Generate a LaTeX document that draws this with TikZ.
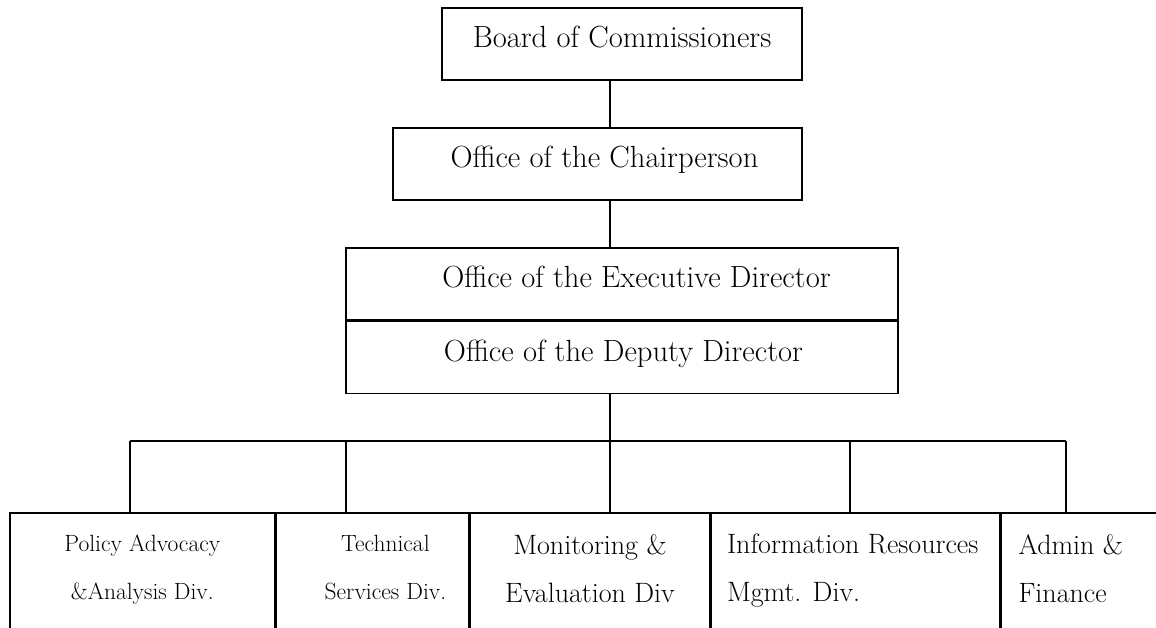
\documentclass[tikz,border=0pt]{standalone}
\usepackage{fontspec}
\usetikzlibrary{positioning}

\tikzset{
  orgbox/.style={draw, line width=1.6pt, rectangle, inner sep=0pt,
    text height=21pt, text depth=14pt,
    font=\fontsize{30.6}{34}\selectfont},
  divbox/.style={draw, line width=1.6pt, rectangle, inner sep=0pt,
    anchor=north west, minimum height=200pt},
  bigtxt/.style={inner sep=0pt, font=\fontsize{28}{48}\selectfont},
  smalltxt/.style={inner sep=0pt, font=\fontsize{23.5}{48}\selectfont},
  link/.style={line width=1.6pt}
}

\begin{document}
\begin{tikzpicture}[x=1pt, y=-1pt]

% page size and cut at the bottom edge
\useasboundingbox (0,0) rectangle (1156,628);
\clip (0,0) rectangle (1156,628);

% Top of the chart
\node[orgbox, minimum width=360, minimum height=72] (board) at (622,44) {Board of Commissioners};
\node[orgbox, minimum width=409, minimum height=72] (chair) at (597.5,164) {\hspace*{14pt}Office of the Chairperson};
\node[orgbox, minimum width=552, minimum height=72] (exec) at (622,284) {\hspace*{29pt}Office of the Executive Director};
\node[orgbox, minimum width=552, minimum height=72, below=0pt of exec] (deputy) {\hspace*{3pt}Office of the Deputy Director};

% spine of the chart
\coordinate (spine) at (610,0);
\draw[link] (spine |- board.south) -- (spine |- chair.north);
\draw[link] (spine |- chair.south) -- (spine |- exec.north);

% Bus line to the divisions
\coordinate (bus) at (610,441);
\coordinate (busL) at (130,441);
\coordinate (busR) at (1066,441);
\draw[link] (bus |- deputy.south) -- (bus);
\draw[link] (busL) -- (busR);

% Divisions (boxes run past the bottom edge)
\node[divbox, minimum width=265] (pol) at (9,512) {};
\node[divbox, minimum width=192] (tech) at (pol.north east) {};
\node[divbox, minimum width=240] (mon) at (tech.north east) {};
\node[divbox, minimum width=288] (info) at (mon.north east) {};
\node[divbox, minimum width=250] (admin) at (info.north east) {};

% Branches from the bus
\coordinate (br1) at (130,441);
\coordinate (br2) at (346,441);
\coordinate (br3) at (610,441);
\coordinate (br4) at (850,441);
\coordinate (br5) at (1066,441);
\foreach \b/\d in {br1/pol, br2/tech, br3/mon, br4/info, br5/admin}
  \draw[link] (\b) -- (\b |- \d.north);

% Division names
\node[smalltxt, align=center, below=23pt of pol.north] (poltxt) {Policy Advocacy\\\&Analysis Div.};
\node[smalltxt, align=center, below=23pt of tech.north, xshift=13pt] (techtxt) {Technical\\Services Div.};
\node[bigtxt, align=center, below=22pt of mon.north] (montxt) {Monitoring \&\\Evaluation Div};
\node[bigtxt, align=left, below right=22pt and 16pt of info.north west] (infotxt) {Information Resources\\Mgmt. Div.};
\node[bigtxt, align=left, below right=22pt and 18pt of admin.north west] (admintxt) {Admin \&\\Finance\\Div.};

\end{tikzpicture}
\end{document}
